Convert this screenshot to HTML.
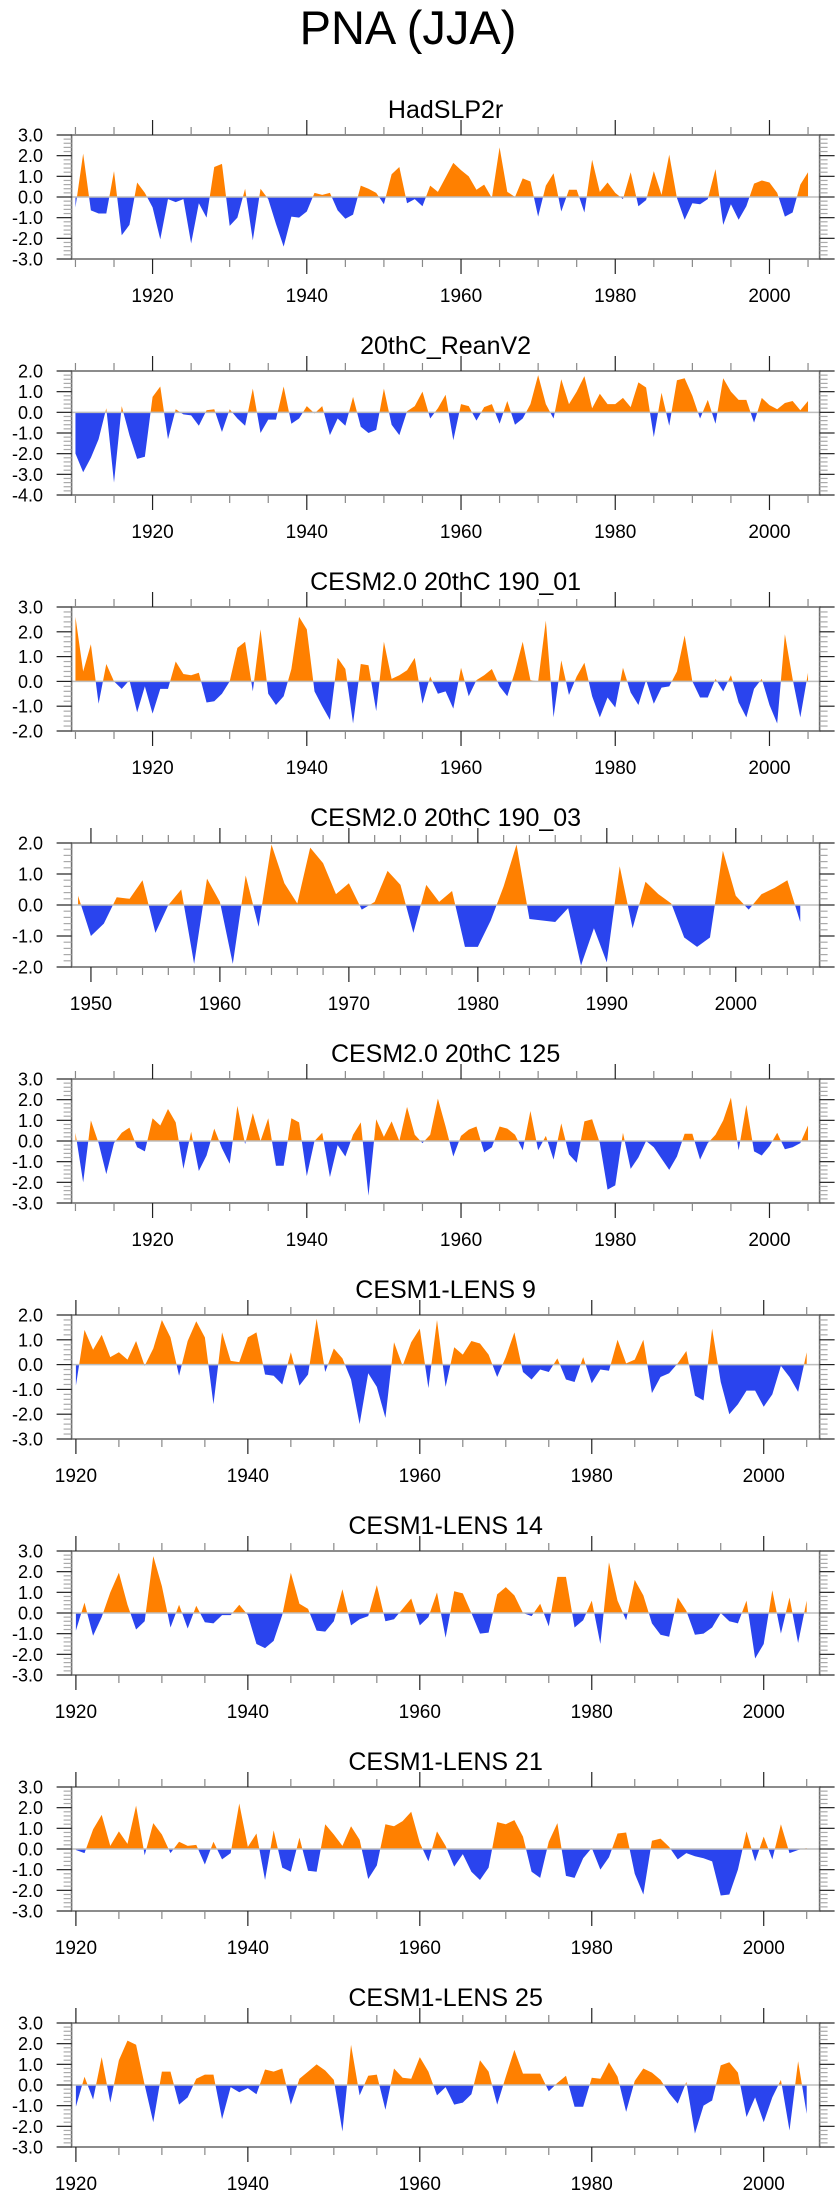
<!DOCTYPE html>
<html><head><meta charset="utf-8"><style>
html,body{margin:0;padding:0;background:#fff;}
svg{display:block;font-family:"Liberation Sans",sans-serif;}
</style></head><body>
<svg id="fig" width="840" height="2200" viewBox="0 0 840 2200" xmlns="http://www.w3.org/2000/svg">
<text x="408" y="44" font-size="47" text-anchor="middle" fill="#000">PNA (JJA)</text>
</svg>
<script>
const titles = ["HadSLP2r","20thC_ReanV2","CESM2.0 20thC 190_01","CESM2.0 20thC 190_03","CESM2.0 20thC 125","CESM1-LENS 9","CESM1-LENS 14","CESM1-LENS 21","CESM1-LENS 25"];
const startYears = [1910,1910,1910,1949,1910,1920,1920,1920,1920];
const yMins = [-3,-4,-2,-2,-3,-3,-3,-3,-3];
const yMaxs = [3,2,3,2,3,2,3,3,3];
const s1 = [-0.5,2.1,-0.65,-0.8,-0.8,1.25,-1.85,-1.35,0.7,0.2,-0.5,-2.05,-0.1,-0.25,-0.1,-2.25,-0.3,-1.0,1.45,1.6,-1.4,-1.0,0.4,-2.1,0.4,-0.1,-1.3,-2.4,-0.95,-1.0,-0.7,0.2,0.1,0.2,-0.65,-1.05,-0.85,0.55,0.4,0.2,-0.35,1.1,1.45,-0.3,-0.1,-0.45,0.55,0.25,0.95,1.65,1.3,1.0,0.35,0.6,-0.05,2.4,0.25,0.0,0.9,0.75,-0.95,0.55,1.15,-0.7,0.35,0.35,-0.75,1.8,0.25,0.7,0.2,-0.1,1.2,-0.45,-0.15,1.25,0.1,2.05,-0.05,-1.1,-0.3,-0.35,-0.1,1.35,-1.35,-0.35,-1.1,-0.45,0.65,0.8,0.7,0.2,-0.95,-0.75,0.6,1.2];
const s2 = [-2.0,-2.9,-2.2,-1.3,0.2,-3.4,0.3,-1.1,-2.25,-2.15,0.75,1.25,-1.3,0.15,-0.1,-0.15,-0.65,0.1,0.15,-0.95,0.15,-0.3,-0.65,1.15,-1.0,-0.35,-0.35,1.25,-0.55,-0.3,0.3,-0.05,0.3,-1.1,-0.3,-0.65,0.75,-0.7,-1.0,-0.85,1.15,-0.6,-1.1,0.05,0.3,1.0,-0.3,0.2,0.85,-1.35,0.4,0.3,-0.4,0.25,0.4,-0.55,0.55,-0.6,-0.3,0.4,1.8,0.4,-0.3,1.6,0.4,1.0,1.75,0.2,0.9,0.4,0.4,0.7,0.25,1.45,1.2,-1.2,0.95,-0.65,1.55,1.65,0.8,-0.3,0.6,-0.55,1.65,1.0,0.6,0.6,-0.5,0.7,0.35,0.15,0.45,0.55,0.1,0.55];
const s3 = [2.6,0.4,1.5,-0.9,0.7,0.0,-0.3,0.05,-1.25,-0.2,-1.3,-0.3,-0.3,0.8,0.3,0.25,0.35,-0.85,-0.8,-0.5,0.0,1.35,1.6,-0.4,2.1,-0.5,-0.95,-0.6,0.5,2.6,2.1,-0.4,-1.0,-1.55,0.95,0.5,-1.7,0.7,0.65,-1.2,1.6,0.1,0.25,0.45,0.95,-0.9,0.2,-0.5,-0.4,-1.1,0.55,-0.6,0.05,0.25,0.5,-0.2,-0.6,0.4,1.6,0.05,0.0,2.45,-1.45,0.85,-0.55,0.2,0.75,-0.6,-1.45,-0.65,-1.05,0.55,-0.45,-0.95,0.05,-0.9,-0.25,-0.2,0.4,1.85,0.0,-0.65,-0.65,0.1,-0.4,0.25,-0.85,-1.45,-0.3,0.1,-0.95,-1.7,1.9,0.1,-1.45,0.35];
const s4 = [0.3,-1.0,-0.6,0.25,0.2,0.8,-0.9,0.0,0.5,-1.9,0.85,0.1,-1.9,0.95,-0.7,1.95,0.7,0.05,1.85,1.35,0.35,0.7,-0.15,0.1,1.1,0.65,-0.9,0.65,0.1,0.45,-1.35,-1.35,-0.5,0.6,1.95,-0.45,-0.5,-0.55,-0.1,-1.95,-0.75,-1.85,1.25,-0.75,0.75,0.35,0.05,-1.05,-1.35,-1.05,1.75,0.3,-0.15,0.35,0.55,0.8,-0.55];
const s5 = [0.4,-2.0,1.0,-0.1,-1.6,-0.1,0.4,0.65,-0.3,-0.5,1.1,0.75,1.55,0.9,-1.35,0.45,-1.45,-0.7,0.6,-0.35,-1.1,1.7,-0.15,1.35,0.0,1.1,-1.2,-1.2,1.1,0.9,-1.7,0.0,0.4,-1.75,-0.2,-0.75,0.3,0.9,-2.65,1.05,0.2,0.95,0.0,1.65,0.3,-0.1,0.3,2.05,0.7,-0.75,0.25,0.55,0.7,-0.55,-0.3,0.7,0.6,0.3,-0.45,1.45,-0.45,0.25,-0.9,0.85,-0.65,-1.05,0.95,1.05,-0.1,-2.35,-2.15,0.4,-1.35,-0.8,0.0,-0.3,-0.85,-1.4,-0.75,0.35,0.35,-0.9,-0.1,0.3,1.0,2.1,-0.45,1.75,-0.5,-0.7,-0.25,0.4,-0.4,-0.3,-0.1,0.75];
const s6 = [-0.85,1.4,0.6,1.2,0.3,0.5,0.2,0.95,-0.05,0.65,1.8,1.1,-0.45,0.95,1.75,1.1,-1.6,1.3,0.15,0.1,1.1,1.3,-0.4,-0.45,-0.8,0.5,-0.85,-0.4,1.85,-0.3,0.65,0.25,-0.6,-2.4,-0.35,-0.9,-2.15,0.9,-0.05,0.9,1.45,-0.95,1.8,-0.9,0.7,0.4,0.95,0.85,0.4,-0.5,0.3,1.3,-0.3,-0.6,-0.2,-0.3,0.25,-0.6,-0.7,0.3,-0.75,-0.2,-0.25,1.0,0.05,0.2,1.0,-1.15,-0.5,-0.35,0.05,0.55,-1.25,-1.45,1.45,-0.7,-2.0,-1.6,-1.05,-1.05,-1.7,-1.2,-0.05,-0.5,-1.1,0.5];
const s7 = [-0.85,0.5,-1.1,-0.2,1.0,1.95,0.4,-0.8,-0.4,2.75,1.3,-0.7,0.4,-0.75,0.35,-0.45,-0.5,-0.1,-0.1,0.4,-0.1,-1.5,-1.7,-1.35,-0.1,1.95,0.45,0.2,-0.85,-0.9,-0.4,1.15,-0.6,-0.3,-0.15,1.35,-0.4,-0.3,0.2,0.7,-0.6,-0.2,1.0,-1.2,1.05,0.95,0.0,-1.0,-0.95,0.9,1.25,0.85,0.0,-0.15,0.45,-0.65,1.75,1.75,-0.7,-0.35,0.6,-1.5,2.45,0.6,-0.35,1.6,0.85,-0.5,-1.05,-1.15,0.75,0.1,-1.05,-1.0,-0.7,0.0,-0.4,-0.5,0.6,-2.2,-1.5,1.1,-1.0,0.75,-1.45,0.6];
const s8 = [-0.05,-0.2,0.95,1.65,0.15,0.85,0.25,2.1,-0.3,1.25,0.7,-0.2,0.35,0.15,0.2,-0.75,0.35,-0.5,-0.2,2.2,0.1,0.75,-1.5,0.9,-0.9,-1.1,0.55,-1.05,-1.1,1.2,0.7,0.15,1.1,0.45,-1.45,-0.8,1.2,1.1,1.35,1.8,0.3,-0.6,0.85,0.15,-0.85,-0.25,-1.1,-1.5,-0.9,1.3,1.2,1.4,0.6,-1.1,-1.4,0.35,1.25,-1.3,-1.4,-0.45,0.05,-1.0,-0.4,0.75,0.8,-1.2,-2.2,0.4,0.5,0.1,-0.5,-0.2,-0.35,-0.45,-0.6,-2.25,-2.2,-1.0,0.85,-0.6,0.6,-0.5,1.2,-0.2,-0.05,0.05];
const s9 = [-1.05,0.4,-0.7,1.35,-0.85,1.2,2.15,1.95,0.0,-1.8,0.65,0.65,-0.95,-0.6,0.3,0.5,0.5,-1.65,-0.1,-0.35,-0.15,-0.45,0.75,0.65,0.8,-0.95,0.3,0.65,1.0,0.7,0.25,-2.25,1.95,-0.5,0.45,0.5,-1.2,0.8,0.35,0.3,1.35,0.65,-0.5,-0.1,-0.95,-0.85,-0.45,1.2,0.65,-0.95,0.4,1.7,0.55,0.55,0.55,-0.3,0.1,0.45,-1.05,-1.05,0.35,0.3,1.1,0.4,-1.3,0.2,0.8,0.6,0.25,-0.4,-0.9,0.15,-2.35,-1.0,-0.75,0.95,1.1,0.6,-1.55,-0.6,-1.8,-0.6,0.25,-2.2,1.15,-1.4];
const seriesList = [s1,s2,s3,s4,s5,s6,s7,s8,s9];
const yTickLabels = ["-4.0","-3.0","-2.0","-1.0","0.0","1.0","2.0","3.0"];

const NS = "http://www.w3.org/2000/svg";
const svg = document.getElementById("fig");
const L = 71.6, R = 819.6, H = 124, TOP0 = 135, STEP = 236;
const POS = "#ff8000", NEG = "#2a44ee", FRAME = "#707070";

function mk(tag, attrs, parent) {
  const e = document.createElementNS(NS, tag);
  for (const k in attrs) e.setAttribute(k, attrs[k]);
  (parent || svg).appendChild(e);
  return e;
}

for (let p = 0; p < 9; p++) {
  const data = seriesList[p];
  const y0 = startYears[p];
  const top = TOP0 + STEP * p, bot = top + H;
  const xmin = y0 - 0.5, xmax = 2006.5;
  const ymin = yMins[p], ymax = yMaxs[p];
  const sx = yr => L + (yr - xmin) / (xmax - xmin) * (R - L);
  const sy = v => bot - (v - ymin) / (ymax - ymin) * H;

  const g = mk("g", {});
  
  

  const t = mk("text", {x: (L + R) / 2, y: top - 17, "font-size": 25, "text-anchor": "middle", fill: "#000"}, g);
  
  
  t.textContent = titles[p];

  // build points with zero crossings
  const pts = [];
  for (let i = 0; i < data.length; i++) {
    const yr = y0 + i, v = data[i];
    if (i > 0) {
      const pv = data[i - 1];
      if ((pv > 0 && v < 0) || (pv < 0 && v > 0)) {
        const f = pv / (pv - v);
        pts.push([yr - 1 + f, 0]);
      }
    }
    pts.push([yr, v]);
  }
  const first = pts[0][0], last = pts[pts.length - 1][0];
  let posD = "M" + sx(first) + "," + sy(0);
  let negD = posD;
  for (const q of pts) {
    posD += " L" + sx(q[0]).toFixed(2) + "," + sy(Math.max(q[1], 0)).toFixed(2);
    negD += " L" + sx(q[0]).toFixed(2) + "," + sy(Math.min(q[1], 0)).toFixed(2);
  }
  posD += " L" + sx(last) + "," + sy(0) + " Z";
  negD += " L" + sx(last) + "," + sy(0) + " Z";
  const pa = mk("path", {d: posD, fill: POS, stroke: "none"}, g);
  
  
  const na = mk("path", {d: negD, fill: NEG, stroke: "none"}, g);
  
  

  const zl = mk("line", {x1: L, x2: R, y1: sy(0), y2: sy(0), stroke: "#bdbdbd", "stroke-width": 1.5}, g);
  
  

  const fr = mk("rect", {x: L, y: top, width: R - L, height: H, fill: "none", stroke: FRAME, "stroke-width": 1.6}, g);
  
  

  // y ticks
  for (let k = Math.round(ymin * 5); k <= Math.round(ymax * 5); k++) {
    const v = k / 5, yy = sy(v), major = (k % 5 === 0);
    const len = major ? 15 : 8;
    const col = major ? "#222" : "#aaa";
    mk("line", {x1: L - len, x2: L, y1: yy, y2: yy, stroke: col, "stroke-width": 1.2}, g);
    mk("line", {x1: R, x2: R + len, y1: yy, y2: yy, stroke: col, "stroke-width": 1.2}, g);
    if (major) {
      const lab = mk("text", {x: 43, y: yy + 6.5, "font-size": 18, "text-anchor": "end", fill: "#000"}, g);
      
      
      lab.textContent = yTickLabels[Math.round(v) + 4];
    }
  }
  // x ticks
  const majorStep = (p === 3) ? 10 : 20, minorStep = (p === 3) ? 2 : 5;
  const majorStart = (p === 3) ? 1950 : 1920;
  for (let yr = Math.ceil(xmin / minorStep) * minorStep; yr <= xmax; yr += minorStep) {
    const xx = sx(yr);
    const major = yr >= majorStart && (yr - majorStart) % majorStep === 0;
    const len = major ? 15 : 8;
    const col = major ? "#222" : "#888";
    mk("line", {x1: xx, x2: xx, y1: bot, y2: bot + len, stroke: col, "stroke-width": 1.2}, g);
    mk("line", {x1: xx, x2: xx, y1: top - len, y2: top, stroke: col, "stroke-width": 1.2}, g);
    if (major) {
      const lab = mk("text", {x: xx, y: bot + 43, "font-size": 19, "text-anchor": "middle", fill: "#000"}, g);
      
      
      lab.textContent = String(yr);
    }
  }
}
</script>
</body></html>
